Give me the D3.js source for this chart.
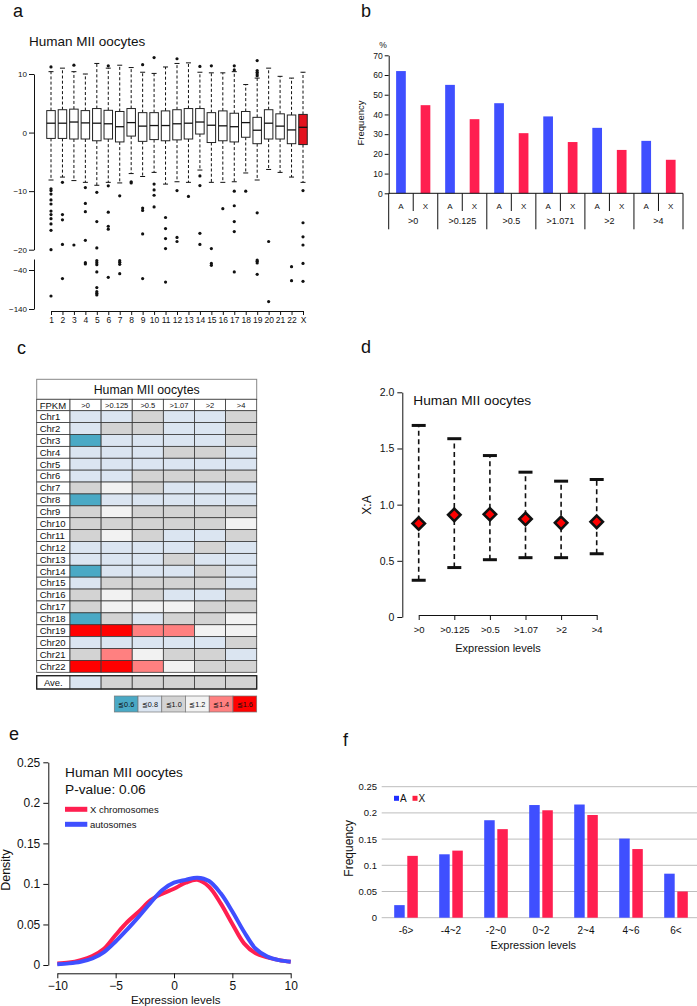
<!DOCTYPE html>
<html><head><meta charset="utf-8">
<script src="https://cdn.jsdelivr.net/npm/d3@7"></script>
<style>
body{margin:0;background:#fff}
svg{display:block}
text{font-family:"Liberation Sans",Arial,Helvetica,sans-serif;fill:#111}
</style>
</head><body>
<svg id="c" width="697" height="1006"></svg>
<script>
// ---------------- DATA ----------------
// Panel a: box plots per chromosome
const chromosomes = ["1","2","3","4","5","6","7","8","9","10","11","12","13","14","15","16","17","18","19","20","21","22","X"];
const boxQ3     = [3.75,3.9,4.0,3.75,4.1,3.8,3.6,4.1,3.4,3.4,3.7,3.9,4.1,4.1,3.4,3.7,3.3,3.6,2.6,3.9,3.2,3.0,3.1];
const boxMedian = [1.6,1.6,1.8,1.65,1.6,1.5,1.0,1.7,1.1,1.2,1.2,1.5,1.6,1.8,1.25,1.15,1.0,1.7,0.4,1.6,1.1,0.45,0.9];
const boxQ1     = [-1.0,-1.0,-1.1,-1.1,-1.4,-1.1,-1.6,-0.6,-1.5,-1.2,-1.4,-1.25,-1.1,-0.25,-1.7,-1.4,-1.6,-0.8,-1.9,-1.1,-1.1,-1.9,-2.05];
const whiskerHigh = [10.4,11.0,10.4,10.0,11.8,11.0,11.5,11.1,10.3,10.1,11.2,11.8,11.9,10.3,10.2,10.2,10.4,8.2,9.3,11.0,9.6,9.3,10.3];
const whiskerLow  = [-8.1,-7.6,-8.2,-8.5,-9.0,-8.5,-8.6,-7.0,-7.5,-6.8,-8.8,-8.4,-8.5,-6.4,-8.5,-8.5,-8.4,-6.9,-8.1,-6.3,-6.8,-7.6,-8.5];
const outliers = [
  [11.2,-9.6,-9.9,-10.5,-11.5,-12.2,-13.4,-14.0,-14.7,-15.6,-16.7,-20.0,-106.7],
  [-8.5,-14.0,-14.9,-19.1,-62],
  [11.5,-19.2],
  [-9.4,-12.1,-13.5,-18.4,-26.7,-29],
  [-10.2,-15.2,-19.7,-23,-26.7,-30.4,-45,-85,-95.6,-99.7,-104],
  [11.4,-9.1,-13.6,-16.0,-16.5,-58.8],
  [-10.8,-23,-26,-29.6,-49.4],
  [-8.4,-8.6],
  [11.6,-12.9,-13.3,-17.3,-62],
  [12.8,-8.8,-9.8,-10.7,-12.7],
  [-14.5,-16.4,-18.1,-19.8,-71],
  [12.6,-9.9,-17.9,-18.6],
  [-10.9],
  [11.3,-7.4,-9.05,-17.2,-19.1],
  [11.4,-19.8,-28,-31.5],
  [-13.0],
  [11.4,10.7,-10.0,-12.5,-15.2,-16.9,-45],
  [-10.0],
  [12.3,10.6,10.3,10.0,9.7,-13.7,-21.8,-24.2,-27.3,-51],
  [-18.6,-121],
  [],
  [-34,-67.4],
  [-9.9,-15.4,-17.8,-19.2,-28,-69]
];
const upperTicks = [10,0,-10,-20];
const lowerTicks = [-40,-140];

// Panel b: frequency of expressed genes (%)
const thresholdsB = [">0",">0.125",">0.5",">1.071",">2",">4"];
const freqAutosome = [62,55,45.7,39,33.2,26.6];
const freqXchrom   = [44.7,37.6,30.5,26,22,17];
const ticksB = [0,10,20,30,40,50,60,70];

// Panel c: X:A ratio class per chromosome (1: ≦0.6 ... 6: ≦1.6)
const fpkmLevels = [">0",">0.125",">0.5",">1.07",">2",">4"];
const heatRows = ["Chr1","Chr2","Chr3","Chr4","Chr5","Chr6","Chr7","Chr8","Chr9","Chr10","Chr11","Chr12","Chr13","Chr14","Chr15","Chr16","Chr17","Chr18","Chr19","Chr20","Chr21","Chr22"];
const heatClass = [
  [2,2,3,2,2,3],[2,3,3,2,2,3],[1,2,2,2,2,3],[2,2,2,3,3,2],[2,2,2,2,2,2],
  [2,2,3,3,3,3],[3,4,3,2,2,2],[1,2,2,2,2,2],[3,4,3,3,3,3],[3,3,3,3,3,4],
  [3,4,3,2,2,3],[2,2,2,2,3,2],[2,2,2,3,2,2],[1,2,2,2,3,2],[2,3,3,3,3,2],
  [3,4,3,2,2,3],[3,4,4,4,3,3],[1,3,2,3,3,4],[6,6,5,5,4,4],[2,2,2,2,2,3],
  [3,5,4,3,3,2],[6,6,5,4,3,3]
];
const heatAverage = [2,3,3,3,3,3];
const legendLabels = ["≦0.6","≦0.8","≦1.0","≦1.2","≦1.4","≦1.6"];
const classColors = ["#4aa9c5","#dbe5f1","#d3d3d3","#f2f2f2","#ff8080","#ff0000"];

// Panel d: X:A ratio mean and range
const levelsD = [">0",">0.125",">0.5",">1.07",">2",">4"];
const xaMean = [0.832,0.909,0.914,0.873,0.838,0.847];
const xaLow  = [0.327,0.44,0.51,0.528,0.528,0.563];
const xaHigh = [1.705,1.587,1.437,1.289,1.209,1.224];
const ticksD = [0,0.5,1.0,1.5,2.0];

// Panel e: density curves
const densX = [-10,-9,-8,-7,-6,-5,-4,-3,-2,-1,0,1,2,3,4,5,6,7,8,9,10];
const densXchrom   = [0.002,0.003,0.006,0.011,0.02,0.037,0.053,0.066,0.08,0.088,0.094,0.1015,0.105,0.0966,0.076,0.0506,0.0267,0.0144,0.0095,0.006,0.004];
const densAutosome = [0.001,0.002,0.004,0.008,0.016,0.029,0.044,0.06,0.077,0.0925,0.1015,0.105,0.1077,0.1036,0.0884,0.066,0.041,0.02,0.0103,0.006,0.004];
const ticksEy = [0,0.05,0.1,0.15,0.2,0.25];
const ticksEx = [-10,-5,0,5,10];

// Panel f: frequency by expression bins
const binsF = ["-6>","-4~2","-2~0","0~2","2~4","4~6","6<"];
const binFreqA = [0.024,0.121,0.186,0.215,0.216,0.151,0.084];
const binFreqX = [0.118,0.128,0.169,0.205,0.196,0.131,0.050];
const ticksF = [0,0.05,0.1,0.15,0.2,0.25];

// ---------------- DRAWING ----------------
const svg = d3.select("#c");
const BLUE = "#3f4fff", RED = "#ff1f50";

function txt(t, x, y, size, anchor="start", extra={}) {
  const e = svg.append("text").attr("x", x).attr("y", y).attr("font-size", size)
    .attr("text-anchor", anchor).text(t);
  for (const k in extra) e.attr(k, extra[k]);
  return e;
}
function styleAxis(g, size) {
  g.selectAll("path,line").attr("stroke", "#111").attr("stroke-width", 1);
  g.selectAll("text").attr("font-size", size).attr("fill", "#111")
    .attr("font-family", '"Liberation Sans",Arial,sans-serif');
}

// panel letters
txt("a", 13, 17, 18); txt("b", 361, 17, 18); txt("c", 17, 354, 18);
txt("d", 361, 353, 18); txt("e", 9, 740, 18); txt("f", 343, 746, 18);

// ===== Panel a =====
{
  const xA = d3.scalePoint().domain(chromosomes).range([51, 303]);
  const yUp = d3.scaleLinear().domain([-20, 10]).range([249.7, 74]);
  const yLow = d3.scaleLinear().domain([-20, -40, -140]).range([259, 270, 309]);
  const yv = v => v >= -20.5 ? yUp(v) : yLow(v);

  txt("Human MII oocytes", 29, 46, 13.5);

  const gU = svg.append("g").attr("transform", "translate(34,0)")
    .call(d3.axisLeft(yUp).tickValues(upperTicks).tickSize(5).tickSizeOuter(0).tickPadding(2));
  styleAxis(gU, 8);
  const gL = svg.append("g").attr("transform", "translate(34,0)")
    .call(d3.axisLeft(yLow).tickValues(lowerTicks).tickSize(5).tickSizeOuter(0).tickPadding(2));
  styleAxis(gL, 8);
  const gX = svg.append("g").attr("transform", "translate(0,311)")
    .call(d3.axisBottom(xA).tickSize(4).tickSizeOuter(0).tickPadding(2));
  styleAxis(gX, 8.5);

  const bw = 8.5;
  chromosomes.forEach((c, i) => {
    const cx = xA(c);
    const g = svg.append("g");
    g.append("line").attr("x1", cx).attr("x2", cx).attr("y1", yUp(boxQ3[i])).attr("y2", yUp(whiskerHigh[i]))
      .attr("stroke", "#111").attr("stroke-width", 1).attr("stroke-dasharray", "3,2.2");
    g.append("line").attr("x1", cx).attr("x2", cx).attr("y1", yUp(boxQ1[i])).attr("y2", yUp(whiskerLow[i]))
      .attr("stroke", "#111").attr("stroke-width", 1).attr("stroke-dasharray", "3,2.2");
    [whiskerHigh[i], whiskerLow[i]].forEach(v => {
      g.append("line").attr("x1", cx - 2.5).attr("x2", cx + 2.5).attr("y1", yUp(v)).attr("y2", yUp(v))
        .attr("stroke", "#111").attr("stroke-width", 1);
    });
    g.append("rect").attr("x", cx - bw / 2).attr("width", bw)
      .attr("y", yUp(boxQ3[i])).attr("height", yUp(boxQ1[i]) - yUp(boxQ3[i]))
      .attr("fill", c === "X" ? "#e3121e" : "#fff").attr("stroke", "#222").attr("stroke-width", 1);
    g.append("line").attr("x1", cx - bw / 2).attr("x2", cx + bw / 2)
      .attr("y1", yUp(boxMedian[i])).attr("y2", yUp(boxMedian[i])).attr("stroke", "#111").attr("stroke-width", 1.3);
    g.selectAll("circle.o").data(outliers[i]).enter().append("circle")
      .attr("cx", cx).attr("cy", d => yv(d)).attr("r", 1.6).attr("fill", "#111");
  });
}

// ===== Panel b =====
{
  const xG = d3.scaleBand().domain(thresholdsB).range([388.7, 683]);
  const xS = d3.scaleBand().domain(["A", "X"]).range([0, xG.bandwidth()]);
  const yB = d3.scaleLinear().domain([0, 70]).range([193.3, 55.3]);
  const barW = 9.7;

  const gy = svg.append("g").attr("transform", "translate(388.7,0)")
    .call(d3.axisLeft(yB).tickValues(ticksB).tickSize(4).tickSizeOuter(0).tickPadding(2));
  styleAxis(gy, 8.5);
  txt("%", 383, 48, 8.5, "middle");
  txt("Frequency", 0, 0, 9.5, "middle", {transform: "translate(364,123) rotate(-90)"});

  thresholdsB.forEach((t, i) => {
    const g0 = xG(t);
    [["A", freqAutosome[i], BLUE], ["X", freqXchrom[i], RED]].forEach(([k, v, col]) => {
      const cx = g0 + xS(k) + xS.bandwidth() / 2;
      svg.append("rect").attr("x", cx - barW / 2).attr("width", barW)
        .attr("y", yB(v)).attr("height", yB(0) - yB(v)).attr("fill", col);
      txt(k, cx, 208.5, 8, "middle");
    });
    svg.append("line").attr("x1", g0 + xG.bandwidth() / 2).attr("x2", g0 + xG.bandwidth() / 2)
      .attr("y1", 193.3).attr("y2", 211).attr("stroke", "#111");
    txt(t, g0 + xG.bandwidth() / 2, 223.5, 9, "middle");
  });
  const edges = thresholdsB.map(t => xG(t)).concat([xG.range()[1]]);
  edges.forEach(x => svg.append("line").attr("x1", x).attr("x2", x).attr("y1", 193.3).attr("y2", 229.3).attr("stroke", "#111"));
  svg.append("line").attr("x1", 388.7).attr("x2", 683).attr("y1", 193.3).attr("y2", 193.3).attr("stroke", "#111");
}

// ===== Panel c =====
{
  const x0 = 36.7, xData = 70, x1 = 256.7;
  const xC = d3.scaleBand().domain(fpkmLevels).range([xData, x1]);
  const yC = d3.scaleBand().domain(heatRows).range([410.7, 672.3]);
  const lc = "#3a3a3a";
  // title row
  svg.append("rect").attr("x", x0).attr("y", 379.3).attr("width", x1 - x0).attr("height", 20)
    .attr("fill", "#fff").attr("stroke", "#888").attr("stroke-width", 1);
  txt("Human MII oocytes", (x0 + x1) / 2, 393.5, 12.3, "middle");
  // header row
  svg.append("rect").attr("x", x0).attr("y", 399.3).attr("width", xData - x0).attr("height", 11.4)
    .attr("fill", "#fff").attr("stroke", lc).attr("stroke-width", 0.8);
  txt("FPKM", x0 + 3, 408.6, 9.5);
  fpkmLevels.forEach(l => {
    svg.append("rect").attr("x", xC(l)).attr("y", 399.3).attr("width", xC.bandwidth()).attr("height", 11.4)
      .attr("fill", "#fff").attr("stroke", lc).attr("stroke-width", 0.8);
    txt(l, xC(l) + xC.bandwidth() / 2, 407.8, 7.5, "middle");
  });
  // data rows
  heatRows.forEach((r, i) => {
    svg.append("rect").attr("x", x0).attr("y", yC(r)).attr("width", xData - x0).attr("height", yC.bandwidth())
      .attr("fill", "#fff").attr("stroke", lc).attr("stroke-width", 0.8);
    txt(r, x0 + 3, yC(r) + 9.3, 9.5);
    fpkmLevels.forEach((l, j) => {
      svg.append("rect").attr("x", xC(l)).attr("y", yC(r)).attr("width", xC.bandwidth()).attr("height", yC.bandwidth())
        .attr("fill", classColors[heatClass[i][j] - 1]).attr("stroke", lc).attr("stroke-width", 0.8);
    });
  });
  // average row
  const ay = 675.7, ah = 13.3;
  svg.append("rect").attr("x", x0).attr("y", ay).attr("width", xData - x0).attr("height", ah)
    .attr("fill", "#fff").attr("stroke", lc).attr("stroke-width", 0.8);
  txt("Ave.", (x0 + xData) / 2, ay + 9.8, 9.5, "middle");
  fpkmLevels.forEach((l, j) => {
    svg.append("rect").attr("x", xC(l)).attr("y", ay).attr("width", xC.bandwidth()).attr("height", ah)
      .attr("fill", classColors[heatAverage[j] - 1]).attr("stroke", lc).attr("stroke-width", 0.8);
  });
  svg.append("rect").attr("x", x0).attr("y", ay).attr("width", x1 - x0).attr("height", ah)
    .attr("fill", "none").attr("stroke", "#222").attr("stroke-width", 1.3);
  // legend
  const xLg = d3.scaleBand().domain(legendLabels).range([114.3, 256.7]);
  legendLabels.forEach((l, k) => {
    svg.append("rect").attr("x", xLg(l)).attr("y", 696).attr("width", xLg.bandwidth()).attr("height", 16)
      .attr("fill", classColors[k]).attr("stroke", "#777").attr("stroke-width", 0.7);
    txt(l, xLg(l) + xLg.bandwidth() / 2, 706.6, 7.3, "middle", {fill: k === 5 ? "#6a0000" : (k === 4 ? "#5a1010" : "#203040")});
  });
}

// ===== Panel d =====
{
  const xD = d3.scalePoint().domain(levelsD).range([418.7, 596.7]);
  const yD = d3.scaleLinear().domain([0, 2]).range([617, 392.3]);
  const gy = svg.append("g").attr("transform", "translate(402.3,0)")
    .call(d3.axisLeft(yD).tickValues(ticksD).tickSize(5).tickSizeOuter(0).tickPadding(3)
      .tickFormat(d => d === 0 ? "0" : d.toFixed(1)));
  styleAxis(gy, 10.5);
  const gx = svg.append("g").attr("transform", "translate(0,615)")
    .call(d3.axisBottom(xD).tickSize(5).tickSizeOuter(0).tickPadding(6));
  styleAxis(gx, 9.5);
  txt("Expression levels", 498, 652, 11, "middle");
  txt("X:A", 0, 0, 12, "middle", {transform: "translate(370.5,505) rotate(-90)"});
  txt("Human MII oocytes", 413.3, 405, 13.7);

  levelsD.forEach((l, i) => {
    const cx = xD(l);
    svg.append("line").attr("x1", cx).attr("x2", cx).attr("y1", yD(xaLow[i])).attr("y2", yD(xaHigh[i]))
      .attr("stroke", "#111").attr("stroke-width", 1.6).attr("stroke-dasharray", "5,3.5");
    [xaLow[i], xaHigh[i]].forEach(v => svg.append("line").attr("x1", cx - 7).attr("x2", cx + 7)
      .attr("y1", yD(v)).attr("y2", yD(v)).attr("stroke", "#111").attr("stroke-width", 3));
    const cy = yD(xaMean[i]), h = 6.2;
    svg.append("path").attr("d", `M${cx},${cy - h}L${cx + h},${cy}L${cx},${cy + h}L${cx - h},${cy}Z`)
      .attr("fill", "#f00").attr("stroke", "#111").attr("stroke-width", 2.6);
  });
}

// ===== Panel e =====
{
  const xE = d3.scaleLinear().domain([-10, 10]).range([57.3, 290.7]);
  const yE = d3.scaleLinear().domain([0, 0.25]).range([965, 762.3]);
  const gy = svg.append("g").attr("transform", "translate(48.3,0)")
    .call(d3.axisLeft(yE).tickValues(ticksEy).tickSize(5).tickSizeOuter(0).tickPadding(3)
      .tickFormat(d => d === 0 ? "0" : String(d)));
  styleAxis(gy, 12);
  const gx = svg.append("g").attr("transform", "translate(0,973.3)")
    .call(d3.axisBottom(xE).tickValues(ticksEx).tickSize(5).tickSizeOuter(0).tickPadding(3));
  styleAxis(gx, 12);
  txt("Expression levels", 175.7, 1004, 11.5, "middle");
  txt("Density", 0, 0, 12.5, "middle", {transform: "translate(9.5,870) rotate(-90)"});
  txt("Human MII oocytes", 65, 777, 13.7);
  txt("P-value: 0.06", 65, 793.5, 13.7);

  const line = d3.line().x((d, i) => xE(densX[i])).y(d => yE(d)).curve(d3.curveCatmullRom);
  svg.append("path").attr("d", line(densXchrom)).attr("fill", "none").attr("stroke", RED).attr("stroke-width", 4);
  svg.append("path").attr("d", line(densAutosome)).attr("fill", "none").attr("stroke", BLUE).attr("stroke-width", 4);

  svg.append("line").attr("x1", 65).attr("x2", 87.3).attr("y1", 809.3).attr("y2", 809.3).attr("stroke", RED).attr("stroke-width", 5);
  txt("X chromosomes", 90, 812.7, 9.5);
  svg.append("line").attr("x1", 65).attr("x2", 87.3).attr("y1", 824.3).attr("y2", 824.3).attr("stroke", BLUE).attr("stroke-width", 5);
  txt("autosomes", 90, 827.7, 9.5);
}

// ===== Panel f =====
{
  const xF = d3.scaleBand().domain(binsF).range([383.5, 698.5]);
  const yF = d3.scaleLinear().domain([0, 0.25]).range([917.7, 786.7]);
  ticksF.forEach(t => {
    svg.append("line").attr("x1", 381.7).attr("x2", 697).attr("y1", yF(t)).attr("y2", yF(t))
      .attr("stroke", "#bdbdbd").attr("stroke-width", 1);
    txt(t === 0 ? "0" : String(t), 377, yF(t) + 3.4, 9.5, "end");
  });
  const bw = 10.5;
  binsF.forEach((b, i) => {
    const c = xF(b) + xF.bandwidth() / 2;
    svg.append("rect").attr("x", c - 1.3 - bw).attr("width", bw).attr("y", yF(binFreqA[i]))
      .attr("height", yF(0) - yF(binFreqA[i])).attr("fill", BLUE);
    svg.append("rect").attr("x", c + 1.3).attr("width", bw).attr("y", yF(binFreqX[i]))
      .attr("height", yF(0) - yF(binFreqX[i])).attr("fill", RED);
    txt(b, c, 933.5, 10, "middle");
  });
  txt("Expression levels", 533.3, 949, 11, "middle");
  txt("Frequency", 0, 0, 12, "middle", {transform: "translate(352.5,848.3) rotate(-90)"});
  svg.append("rect").attr("x", 394).attr("y", 795.8).attr("width", 5).attr("height", 5).attr("fill", "#1f2fff");
  txt("A", 400, 801.5, 10);
  svg.append("rect").attr("x", 412.5).attr("y", 795.8).attr("width", 5).attr("height", 5).attr("fill", "#ff1f40");
  txt("X", 418.5, 801.5, 10);
}
</script>
</body></html>
